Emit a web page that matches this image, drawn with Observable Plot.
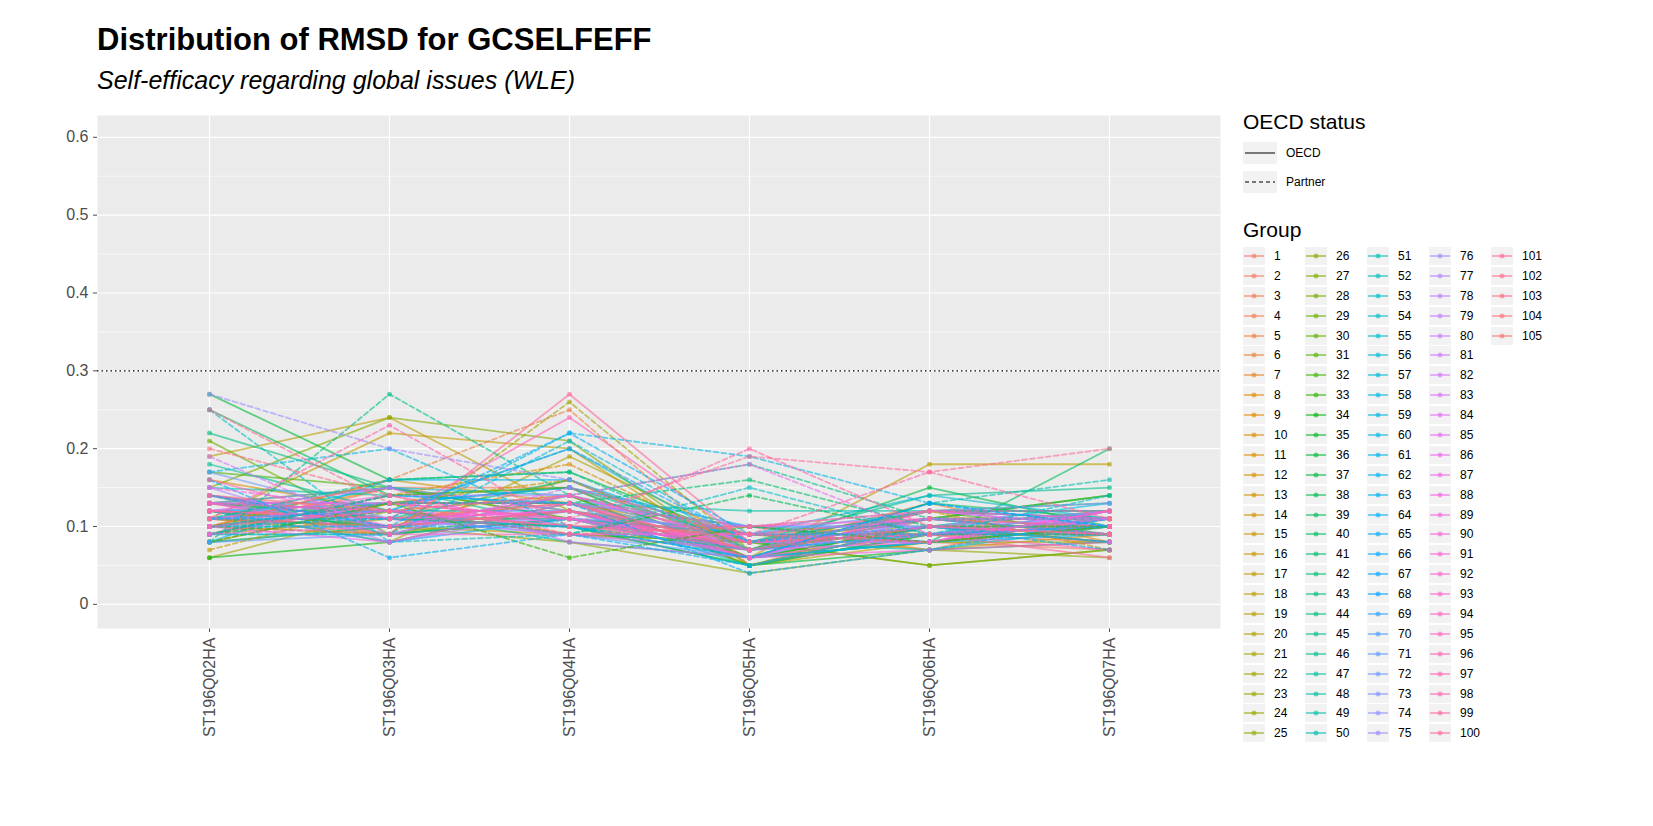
<!DOCTYPE html>
<html>
<head>
<meta charset="utf-8">
<script src="https://cdn.jsdelivr.net/npm/d3@7"></script>
<script src="https://cdn.jsdelivr.net/npm/@observablehq/plot@0.6"></script>
<style>
  body { margin: 0; font-family: "Liberation Sans", Arial, sans-serif; background: #fff; }
  #wrap { position: relative; width: 1653px; height: 826px; }
  #title { position: absolute; left: 97px; top: 22px; font-size: 31px; font-weight: bold; }
  #subtitle { position: absolute; left: 97px; top: 66px; font-size: 25px; font-style: italic; }
  #chart { position: absolute; left: 0; top: 105px; }
  #legend { position: absolute; left: 1243px; top: 110px; font-size: 12px; }
  .ltitle { font-size: 21px; margin-bottom: 4px; }
  .row { display: flex; align-items: center; height: 19.9px; }
  .row svg { margin-right: 9px; }
  .cols { display: flex; }
  .col { width: 62px; }
</style>
</head>
<body>
<div id="wrap">
  <div id="title">Distribution of RMSD for GCSELFEFF</div>
  <div id="subtitle">Self-efficacy regarding global issues (WLE)</div>
  <div id="chart"></div>
  <div id="legend"></div>
</div>
<script>
const items = ["ST196Q02HA", "ST196Q03HA", "ST196Q04HA", "ST196Q05HA", "ST196Q06HA", "ST196Q07HA"];
const groups = d3.range(1, 106);
const partner = [5,12,16,22,28,33,38,41,44,47,50,54,57,59,60,63,64,65,68,69,75,82,86,89,93,98,99,101,103];

const q02 = [0.11,0.13,0.09,0.12,0.10,0.14,0.08,0.12,0.10,0.16,0.11,0.09,0.13,0.10,0.12,
0.07,0.11,0.19,0.09,0.12,0.06,0.10,0.13,0.08,0.11,0.15,0.12,0.09,0.21,0.10,
0.13,0.17,0.08,0.06,0.12,0.27,0.11,0.09,0.25,0.14,0.10,0.13,0.22,0.08,0.12,
0.18,0.11,0.09,0.15,0.10,0.13,0.08,0.12,0.25,0.11,0.14,0.09,0.12,0.17,0.10,
0.13,0.08,0.16,0.11,0.09,0.12,0.10,0.14,0.11,0.13,0.08,0.17,0.12,0.10,0.27,
0.11,0.15,0.09,0.12,0.13,0.10,0.19,0.11,0.14,0.12,0.09,0.13,0.10,0.15,0.12,
0.11,0.14,0.10,0.13,0.09,0.12,0.16,0.11,0.13,0.10,0.25,0.12,0.20,0.11,0.14];
const q03 = [0.10,0.12,0.15,0.09,0.16,0.11,0.13,0.10,0.15,0.12,0.09,0.14,0.11,0.16,0.10,
0.13,0.22,0.24,0.11,0.08,0.12,0.09,0.15,0.10,0.13,0.24,0.11,0.14,0.09,0.12,
0.10,0.15,0.13,0.08,0.11,0.16,0.10,0.12,0.14,0.09,0.13,0.11,0.15,0.27,0.10,
0.12,0.16,0.09,0.14,0.11,0.13,0.10,0.12,0.08,0.15,0.11,0.09,0.13,0.20,0.10,
0.12,0.16,0.06,0.11,0.14,0.08,0.13,0.10,0.12,0.15,0.09,0.11,0.13,0.10,0.20,
0.12,0.08,0.14,0.11,0.10,0.13,0.09,0.12,0.11,0.15,0.10,0.13,0.08,0.12,0.11,
0.14,0.10,0.12,0.09,0.13,0.11,0.10,0.23,0.12,0.09,0.13,0.11,0.14,0.10,0.12];
const q04 = [0.12,0.10,0.15,0.11,0.25,0.13,0.09,0.16,0.12,0.10,0.14,0.18,0.11,0.13,0.09,
0.16,0.20,0.12,0.10,0.19,0.14,0.26,0.11,0.08,0.13,0.21,0.10,0.15,0.12,0.09,
0.14,0.11,0.06,0.13,0.10,0.17,0.12,0.09,0.15,0.11,0.13,0.16,0.10,0.14,0.12,
0.08,0.17,0.11,0.13,0.10,0.15,0.12,0.20,0.09,0.14,0.11,0.21,0.13,0.10,0.22,
0.12,0.16,0.09,0.22,0.13,0.11,0.15,0.10,0.20,0.12,0.14,0.09,0.13,0.11,0.16,
0.10,0.12,0.14,0.09,0.13,0.11,0.15,0.10,0.12,0.08,0.14,0.11,0.13,0.09,0.12,
0.10,0.14,0.11,0.09,0.13,0.24,0.12,0.10,0.14,0.27,0.11,0.13,0.09,0.12,0.10];
const q05 = [0.07,0.09,0.06,0.08,0.05,0.10,0.07,0.06,0.09,0.08,0.05,0.07,0.06,0.09,0.08,
0.07,0.05,0.06,0.10,0.08,0.05,0.07,0.06,0.04,0.08,0.05,0.07,0.09,0.06,0.08,
0.05,0.07,0.10,0.06,0.05,0.08,0.07,0.14,0.06,0.09,0.16,0.07,0.05,0.18,0.08,
0.06,0.07,0.09,0.12,0.06,0.08,0.05,0.07,0.15,0.09,0.06,0.08,0.10,0.07,0.19,
0.06,0.08,0.05,0.09,0.04,0.07,0.10,0.06,0.08,0.09,0.07,0.06,0.08,0.10,0.07,
0.09,0.06,0.08,0.07,0.10,0.06,0.09,0.08,0.07,0.06,0.18,0.08,0.07,0.09,0.06,
0.10,0.08,0.07,0.09,0.06,0.08,0.07,0.20,0.09,0.08,0.19,0.07,0.10,0.08,0.09];
const q06 = [0.09,0.11,0.08,0.12,0.10,0.07,0.13,0.09,0.11,0.08,0.10,0.12,0.09,0.07,0.11,
0.10,0.08,0.18,0.09,0.05,0.11,0.10,0.08,0.07,0.12,0.09,0.11,0.08,0.10,0.05,
0.09,0.12,0.08,0.10,0.07,0.11,0.15,0.09,0.13,0.08,0.10,0.12,0.09,0.11,0.14,
0.08,0.10,0.09,0.12,0.13,0.07,0.10,0.12,0.09,0.14,0.08,0.11,0.10,0.09,0.13,
0.08,0.12,0.10,0.09,0.07,0.11,0.08,0.13,0.10,0.12,0.09,0.11,0.08,0.10,0.12,
0.09,0.11,0.08,0.10,0.12,0.09,0.11,0.10,0.08,0.12,0.09,0.11,0.10,0.08,0.07,
0.11,0.09,0.10,0.08,0.12,0.09,0.11,0.10,0.17,0.09,0.17,0.10,0.12,0.11,0.09];
const q07 = [0.08,0.10,0.07,0.11,0.09,0.12,0.08,0.10,0.09,0.11,0.08,0.07,0.10,0.09,0.11,
0.08,0.10,0.18,0.09,0.07,0.11,0.10,0.08,0.06,0.12,0.09,0.14,0.10,0.08,0.07,
0.11,0.09,0.10,0.12,0.08,0.14,0.10,0.09,0.11,0.20,0.10,0.13,0.09,0.11,0.15,
0.10,0.08,0.12,0.11,0.16,0.10,0.09,0.12,0.14,0.11,0.10,0.09,0.13,0.11,0.10,
0.09,0.12,0.07,0.10,0.11,0.09,0.12,0.10,0.08,0.11,0.12,0.09,0.10,0.11,0.13,
0.10,0.09,0.11,0.12,0.10,0.09,0.11,0.08,0.12,0.10,0.11,0.09,0.10,0.12,0.08,
0.11,0.10,0.09,0.12,0.11,0.07,0.10,0.09,0.11,0.06,0.20,0.10,0.12,0.09,0.11];

const series = [q02, q03, q04, q05, q06, q07];

// ggplot hue_pal: polar LUV, c = 100, l = 65
function hclLuv(h, c, l) {
  const hr = h * Math.PI / 180, u = c * Math.cos(hr), v = c * Math.sin(hr);
  const Y = Math.pow((l + 16) / 116, 3);
  const un = 0.1978398, vn = 0.4683363;
  const up = u / (13 * l) + un, vp = v / (13 * l) + vn;
  const X = Y * 9 * up / (4 * vp), Z = Y * (12 - 3 * up - 20 * vp) / (4 * vp);
  const lin = [3.2404542 * X - 1.5371385 * Y - 0.4985314 * Z,
               -0.9692660 * X + 1.8760108 * Y + 0.0415560 * Z,
               0.0556434 * X - 0.2040259 * Y + 1.0572252 * Z];
  const g = lin.map(x => {
    x = Math.max(0, Math.min(1, x));
    return Math.round(255 * (x <= 0.0031308 ? 12.92 * x : 1.055 * Math.pow(x, 1 / 2.4) - 0.055));
  });
  return d3.rgb(g[0], g[1], g[2]).formatHex();
}
const colors = groups.map((g, i) => hclLuv(15 + i * 360 / 105, 100, 65));

const data = [];
groups.forEach((g, i) => {
  items.forEach((it, j) => {
    data.push({group: g, item: it, rmsd: series[j][i], partner: partner.includes(g)});
  });
});
const oecd = data.filter(d => !d.partner);
const part = data.filter(d => d.partner);

const chart = Plot.plot({
  width: 1225,
  height: 675,
  marginLeft: 97,
  marginRight: 5,
  marginTop: 10,
  marginBottom: 152,
  style: {fontSize: "16px", fontFamily: "Liberation Sans, Arial, sans-serif", color: "#4D4D4D"},
  x: {type: "point", domain: items, padding: 0.61, label: null, tickRotate: -90, tickSize: 4},
  y: {domain: [-0.031, 0.628], ticks: [0, 0.1, 0.2, 0.3, 0.4, 0.5, 0.6], label: null,
      tickFormat: d => d === 0 ? "0" : d.toFixed(1), tickSize: 4},
  color: {type: "ordinal", domain: groups, range: colors},
  marks: [
    Plot.frame({fill: "#EBEBEB", stroke: null}),
    Plot.ruleY([0.05, 0.15, 0.25, 0.35, 0.45, 0.55], {stroke: "white", strokeWidth: 0.6}),
    Plot.gridY([0, 0.1, 0.2, 0.3, 0.4, 0.5, 0.6], {stroke: "white", strokeOpacity: 1, strokeWidth: 1.2}),
    Plot.gridX(items, {stroke: "white", strokeOpacity: 1, strokeWidth: 1.2}),
    Plot.ruleY([0.3], {stroke: "black", strokeDasharray: "1.5,3", strokeWidth: 1.4}),
    Plot.line(oecd, {x: "item", y: "rmsd", z: "group", stroke: "group", strokeOpacity: 0.6, strokeWidth: 1.8}),
    Plot.line(part, {x: "item", y: "rmsd", z: "group", stroke: "group", strokeOpacity: 0.6, strokeWidth: 1.8, strokeDasharray: "5,3"}),
    Plot.dot(data, {x: "item", y: "rmsd", fill: "group", fillOpacity: 0.6, r: 2.5})
  ]
});
document.getElementById("chart").appendChild(chart);

// legend
const leg = d3.select("#legend");
leg.append("div").attr("class", "ltitle").text("OECD status");
[["OECD", null], ["Partner", "4,3"]].forEach(([lab, dash]) => {
  const r = leg.append("div").attr("class", "row").style("height", "29px");
  const s = r.append("svg").attr("width", 34).attr("height", 22);
  s.append("rect").attr("width", 34).attr("height", 22).attr("fill", "#F2F2F2");
  s.append("line").attr("x1", 2).attr("x2", 32).attr("y1", 11).attr("y2", 11)
    .attr("stroke", "#777").attr("stroke-width", 2).attr("stroke-dasharray", dash);
  r.append("span").text(lab);
});
leg.append("div").attr("class", "ltitle").style("margin-top", "22px").text("Group");
const cols = leg.append("div").attr("class", "cols");
for (let c = 0; c < 5; c++) {
  const col = cols.append("div").attr("class", "col");
  groups.slice(c * 25, c * 25 + 25).forEach(g => {
    const r = col.append("div").attr("class", "row");
    const s = r.append("svg").attr("width", 22).attr("height", 18);
    s.append("rect").attr("width", 22).attr("height", 18).attr("fill", "#F2F2F2");
    s.append("line").attr("x1", 1).attr("x2", 21).attr("y1", 9).attr("y2", 9)
      .attr("stroke", colors[g - 1]).attr("stroke-opacity", 0.6).attr("stroke-width", 1.8);
    s.append("circle").attr("cx", 11).attr("cy", 9).attr("r", 2.5).attr("fill", colors[g - 1]).attr("fill-opacity", 0.6);
    r.append("span").text(g);
  });
}
</script>
</body>
</html>
